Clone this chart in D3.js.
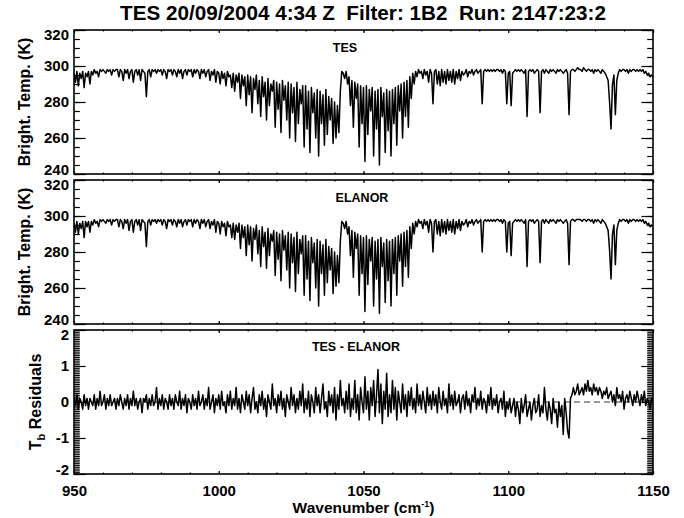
<!DOCTYPE html>
<html>
<head>
<meta charset="utf-8">
<script src="https://cdn.jsdelivr.net/npm/d3@7"></script>
<style>
  body { margin: 0; background: #fff; }
  svg text { font-family: "Liberation Sans", Arial, Helvetica, sans-serif; font-weight: bold; fill: #000; }
</style>
</head>
<body>
<div id="chart"></div>
<script>
// spectra sampled every 0.5 cm-1 from 950 to 1150
const WN_FIRST = 950, WN_STEP = 0.5;

const tesTb = [
  296,291,297,289,296,293,297,288,296,294,
  297,290,297,295,298,296,297,294,298,297,
  298,297,296,298,297,298,295,298,297,298,
  298,294,298,297,292,298,296,298,293,297,
  298,291,297,298,295,298,292,298,297,296,
  283,297,298,294,298,297,298,296,298,297,
  298,295,298,297,293,298,297,298,295,298,
  297,294,298,296,298,293,297,298,295,298,
  297,298,294,298,296,298,297,293,298,296,
  298,294,297,298,292,297,295,298,291,297,
  296,290,297,293,296,289,297,294,295,288,
  296,286,295,291,296,282,295,289,294,278,
  295,284,294,274,293,287,295,279,292,272,
  294,283,291,270,293,278,290,286,292,266,
  291,276,290,263,292,281,289,270,291,260,
  290,274,288,258,291,268,287,279,289,255,
  289,265,286,252,288,274,285,260,287,250,
  286,268,284,256,287,262,283,270,282,257,
  280,260,278,263,286,297,296,293,297,290,
  294,278,292,266,291,282,290,255,289,268,
  288,247,289,262,287,275,288,250,286,265,
  287,245,288,272,285,252,287,264,286,250,
  287,268,288,256,289,275,290,260,291,272,
  292,266,294,282,296,290,297,294,298,296,
  297,293,298,295,297,291,298,296,279,297,
  298,290,297,289,298,291,297,290,298,292,
  297,291,298,290,297,293,298,292,297,295,
  296,298,294,297,296,298,295,297,298,296,
  297,298,279,297,298,297,298,297,298,297,
  298,297,298,298,297,298,296,298,297,279,
  296,297,278,296,297,298,297,298,297,298,
  297,296,298,272,297,298,297,298,296,297,
  298,297,274,297,298,296,298,297,296,298,
  297,298,297,296,298,297,298,297,296,297,
  298,296,273,297,298,298,297,298,299,298,
  298,297,299,298,297,298,298,297,298,296,
  298,297,298,297,296,298,297,296,294,292,
  280,265,290,295,273,292,296,298,297,298,
  298,297,298,296,298,297,298,298,297,298,
  297,298,297,298,296,297,295,296,294,295,
  294
];

const elanorTb = [
  296,291,297,290,296,293,297,288,297,294,
  297,291,297,295,298,296,297,294,298,297,
  298,297,296,298,297,298,295,298,297,298,
  298,294,298,297,293,298,296,298,292,297,
  298,291,297,298,295,298,292,298,297,296,
  283,297,298,295,298,297,298,296,298,297,
  298,295,298,297,293,298,297,298,295,298,
  297,294,298,296,298,294,297,298,295,298,
  297,298,294,298,296,298,297,293,298,296,
  298,294,297,298,293,297,295,298,291,297,
  296,290,297,294,296,289,297,294,295,288,
  296,287,295,291,296,282,295,288,294,278,
  295,284,294,275,293,287,295,279,292,272,
  294,283,291,271,293,278,290,286,292,267,
  291,276,290,264,292,281,289,270,291,260,
  290,274,288,258,291,268,287,279,289,256,
  289,265,286,253,288,274,285,260,287,250,
  286,268,284,256,287,263,283,270,282,257,
  280,261,278,263,286,297,296,293,297,290,
  294,278,292,266,291,282,290,256,289,268,
  288,247,289,262,287,275,288,250,286,265,
  287,246,288,272,285,252,287,264,286,250,
  287,268,288,256,289,275,290,261,291,272,
  292,266,294,282,296,290,297,294,298,296,
  297,293,298,295,297,291,298,296,280,297,
  298,290,297,289,298,291,297,290,298,292,
  297,291,298,290,297,293,298,292,297,295,
  296,298,294,297,296,298,295,297,298,296,
  297,298,280,297,298,297,298,297,298,297,
  298,297,298,298,297,298,296,298,297,280,
  296,297,278,296,297,298,297,298,297,298,
  297,296,298,272,297,298,297,298,296,297,
  298,297,274,297,298,296,298,297,296,298,
  297,298,297,296,298,297,298,297,296,297,
  298,296,273,297,298,298,297,298,298,298,
  298,297,298,298,297,298,298,297,298,296,
  298,297,298,297,296,298,297,296,294,292,
  281,265,290,295,273,292,296,298,297,298,
  298,297,298,296,298,297,298,298,297,298,
  297,298,297,298,296,297,295,296,294,295,
  294
];

const residualTb = [
  0.1,-0.1,0.2,-0.2,0.1,0.0,-0.2,0.2,-0.1,0.1,
  -0.2,0.1,0.0,-0.1,0.2,-0.2,0.1,-0.1,0.3,-0.1,
  0.0,0.2,-0.2,0.1,-0.1,0.2,-0.1,0.0,0.1,-0.2,
  0.1,-0.1,0.2,0.0,-0.2,0.1,-0.1,0.2,-0.2,0.1,
  -0.1,0.3,-0.1,0.1,-0.2,0.0,0.1,-0.3,0.1,0.0,
  0.2,-0.2,0.1,-0.1,0.2,-0.1,0.0,0.4,-0.2,0.1,
  -0.1,0.2,-0.2,0.1,0.0,-0.2,0.2,-0.1,0.1,-0.2,
  0.2,0.0,-0.1,0.3,-0.2,0.1,-0.1,0.2,-0.3,0.1,
  0.0,-0.2,0.2,-0.1,0.1,-0.2,0.3,-0.1,0.0,0.2,
  -0.2,0.1,-0.1,0.4,-0.2,0.0,0.2,-0.3,0.1,-0.1,
  0.2,-0.2,0.3,-0.1,0.0,-0.3,0.2,-0.1,0.3,-0.2,
  0.1,-0.1,0.4,-0.2,0.1,-0.3,0.2,0.0,-0.2,0.3,
  -0.1,0.2,-0.3,0.1,0.4,-0.2,0.0,-0.3,0.2,-0.1,
  0.3,-0.2,0.1,-0.4,0.2,0.0,-0.2,0.5,-0.1,0.1,
  -0.3,0.2,-0.1,0.3,-0.2,0.1,-0.4,0.2,0.0,-0.2,
  0.4,-0.1,0.2,-0.3,0.1,-0.2,0.3,-0.1,0.5,-0.3,
  0.1,-0.2,0.3,-0.4,0.2,0.0,-0.3,0.4,-0.1,0.2,
  -0.3,0.1,0.5,-0.2,0.0,-0.4,0.3,-0.1,0.2,-0.3,
  0.4,-0.5,0.2,-0.2,0.6,-0.1,0.1,-0.3,0.3,-0.2,
  0.5,-0.4,0.1,-0.2,0.6,-0.3,0.2,-0.5,0.4,0.0,
  -0.3,0.7,-0.2,0.3,-0.5,0.4,-0.1,0.6,-0.4,0.2,
  0.9,-0.3,0.5,-0.6,0.3,-0.2,0.8,-0.4,0.2,-0.3,
  0.6,-0.2,0.4,-0.5,0.3,0.0,-0.3,0.5,-0.2,0.2,
  -0.4,0.3,-0.1,0.4,-0.2,0.1,-0.3,0.5,-0.1,0.2,
  -0.2,0.3,0.0,-0.3,0.4,-0.1,0.2,-0.2,0.3,-0.1,
  0.2,-0.3,0.4,0.0,-0.2,0.3,-0.1,0.1,-0.3,0.5,
  -0.1,0.2,-0.2,0.3,-0.1,0.0,0.2,-0.3,0.1,0.2,
  -0.2,0.3,-0.1,0.1,-0.3,0.2,0.0,0.4,-0.2,0.1,
  -0.1,0.3,-0.2,0.1,0.0,-0.3,0.2,-0.1,0.4,-0.2,
  0.1,-0.1,0.2,-0.3,0.0,0.1,-0.2,0.3,-0.4,0.0,
  -0.2,0.1,-0.3,-0.1,0.1,-0.4,0.0,-0.2,-0.6,0.1,
  -0.3,-0.1,0.2,-0.4,-0.2,0.0,-0.5,-0.1,0.1,-0.3,
  -0.2,0.2,-0.4,-0.1,-0.3,0.4,-0.2,-0.5,0.0,-0.2,
  -0.6,0.1,-0.3,-0.2,-0.7,0.0,-0.4,-0.1,-0.9,0.1,
  -0.3,-0.8,-1.0,0.1,0.2,0.4,0.2,0.3,0.5,0.2,
  0.3,0.4,0.2,0.5,0.3,0.6,0.3,0.4,0.2,0.5,
  0.3,0.4,0.2,0.4,0.3,0.1,0.3,0.2,0.4,0.1,
  0.2,0.3,0.0,0.2,-0.1,0.4,0.1,0.2,0.0,0.3,
  -0.2,0.1,0.2,0.0,0.3,0.1,-0.1,0.2,0.0,0.3,
  0.1,-0.1,0.2,0.0,0.3,-0.1,0.1,0.0,-0.2,0.1,
  0.0
];

const wnTicks = [950, 1000, 1050, 1100, 1150];
const tbTicks = [240, 260, 280, 300, 320];
const resTicks = [-2, -1, 0, 1, 2];

const W = 684, H = 518;
const plotX0 = 74, plotX1 = 653, panelH = 144;
const FONT = '"Liberation Sans", Arial, Helvetica, sans-serif';

const svg = d3.select("#chart").append("svg")
  .attr("width", W)
  .attr("height", H);

const x = d3.scaleLinear().domain([950, 1150]).range([plotX0, plotX1]);

function styleAxis(g, fontSize) {
  g.select(".domain").remove();
  g.attr("font-family", FONT).attr("font-size", fontSize).attr("font-weight", "bold");
  g.selectAll("line").attr("stroke", "#000").attr("stroke-width", 1.2);
  g.selectAll("text").attr("fill", "#000");
}

function drawPanel(p) {
  const top = p.top, bottom = p.top + panelH;
  const y = d3.scaleLinear().domain(p.domain).range([bottom, top]);
  const g = svg.append("g");

  svg.append("clipPath").attr("id", "clip" + p.id)
    .append("rect")
    .attr("x", plotX0).attr("y", top)
    .attr("width", plotX1 - plotX0).attr("height", panelH);

  if (p.zeroLine) {
    g.append("line")
      .attr("x1", plotX0).attr("x2", plotX1)
      .attr("y1", y(0)).attr("y2", y(0))
      .attr("stroke", "#000")
      .attr("stroke-width", 0.8)
      .attr("stroke-dasharray", "6,4");
  }

  const line = d3.line()
    .x((d, i) => x(WN_FIRST + i * WN_STEP))
    .y(d => y(d));

  g.append("path")
    .datum(p.values)
    .attr("d", line)
    .attr("fill", "none")
    .attr("stroke", "#000")
    .attr("stroke-width", 1.5)
    .attr("stroke-linejoin", "round")
    .attr("clip-path", `url(#clip${p.id})`);

  const yMinor = d3.range(p.domain[0], p.domain[1] + 1e-9, p.minorStep);
  const xMinor = d3.range(950, 1151, 10);
  const yMajorLen = 0.02 * (plotX1 - plotX0);
  const xMajorLen = 0.02 * panelH;

  // left axis
  g.append("g").attr("transform", `translate(${plotX0},0)`)
    .call(d3.axisLeft(y).tickValues(yMinor).tickSize(-yMajorLen / 2).tickFormat(""))
    .call(a => styleAxis(a, 15));
  g.append("g").attr("transform", `translate(${plotX0},0)`)
    .call(d3.axisLeft(y).tickValues(p.ticks).tickSize(-yMajorLen).tickPadding(5)
      .tickFormat(d => String(d)))
    .call(a => styleAxis(a, 15))
    // end labels sit a little inside the frame, as in the original
    .call(a => a.selectAll("text")
      .attr("y", d => d === p.ticks[0] ? -4 : d === p.ticks[p.ticks.length - 1] ? 5 : 0));

  // right axis
  g.append("g").attr("transform", `translate(${plotX1},0)`)
    .call(d3.axisRight(y).tickValues(yMinor).tickSize(-yMajorLen / 2).tickFormat(""))
    .call(a => styleAxis(a, 15));
  g.append("g").attr("transform", `translate(${plotX1},0)`)
    .call(d3.axisRight(y).tickValues(p.ticks).tickSize(-yMajorLen).tickFormat(""))
    .call(a => styleAxis(a, 15));

  // top axis
  g.append("g").attr("transform", `translate(0,${top})`)
    .call(d3.axisTop(x).tickValues(xMinor).tickSize(-xMajorLen / 2).tickFormat(""))
    .call(a => styleAxis(a, 15));
  g.append("g").attr("transform", `translate(0,${top})`)
    .call(d3.axisTop(x).tickValues(wnTicks).tickSize(-xMajorLen).tickFormat(""))
    .call(a => styleAxis(a, 15));

  // bottom axis
  g.append("g").attr("transform", `translate(0,${bottom})`)
    .call(d3.axisBottom(x).tickValues(xMinor).tickSize(-xMajorLen / 2).tickFormat(""))
    .call(a => styleAxis(a, 15));
  g.append("g").attr("transform", `translate(0,${bottom})`)
    .call(d3.axisBottom(x).tickValues(wnTicks).tickSize(-xMajorLen).tickPadding(11)
      .tickFormat(p.showX ? (d => String(d)) : ""))
    .call(a => styleAxis(a, 15));

  g.append("rect")
    .attr("x", plotX0).attr("y", top)
    .attr("width", plotX1 - plotX0).attr("height", panelH)
    .attr("fill", "none")
    .attr("stroke", "#000")
    .attr("stroke-width", 1.6);

  g.append("text")
    .attr("x", p.labelX)
    .attr("y", top + p.labelDy)
    .attr("text-anchor", "middle")
    .attr("font-size", 12.5)
    .text(p.label);

  const yt = g.append("text")
    .attr("transform", `translate(${p.titleX},${(top + bottom) / 2}) rotate(-90)`)
    .attr("text-anchor", "middle")
    .attr("font-size", 16);
  p.title(yt);
}

drawPanel({
  id: 0, top: 30, domain: [240, 320], ticks: tbTicks, minorStep: 5,
  values: tesTb, label: "TES", labelX: 345, labelDy: 22, titleX: 30,
  title: t => t.text("Bright. Temp. (K)")
});

drawPanel({
  id: 1, top: 180, domain: [240, 320], ticks: tbTicks, minorStep: 5,
  values: elanorTb, label: "ELANOR", labelX: 362, labelDy: 22, titleX: 30,
  title: t => t.text("Bright. Temp. (K)")
});

drawPanel({
  id: 2, top: 330, domain: [-2, 2], ticks: resTicks, minorStep: 0.05,
  values: residualTb, label: "TES - ELANOR", labelX: 356, labelDy: 21, titleX: 41,
  zeroLine: true, showX: true,
  title: t => {
    t.append("tspan").text("T");
    t.append("tspan").attr("font-size", 11).attr("dy", 4).text("b");
    t.append("tspan").attr("dy", -4).text(" Residuals");
  }
});

// main title
svg.append("text")
  .attr("x", 120)
  .attr("y", 20)
  .attr("font-size", 20)
  .attr("textLength", 486)
  .attr("lengthAdjust", "spacingAndGlyphs")
  .style("white-space", "pre")
  .text("TES 20/09/2004 4:34 Z  Filter: 1B2  Run: 2147:23:2");

// x axis title
const xt = svg.append("text")
  .attr("x", (plotX0 + plotX1) / 2)
  .attr("y", 513)
  .attr("text-anchor", "middle")
  .attr("font-size", 15.5);
xt.append("tspan").text("Wavenumber (cm");
xt.append("tspan").attr("font-size", 9).attr("dy", -6).text("-1");
xt.append("tspan").attr("dy", 6).text(")");
</script>
</body>
</html>
